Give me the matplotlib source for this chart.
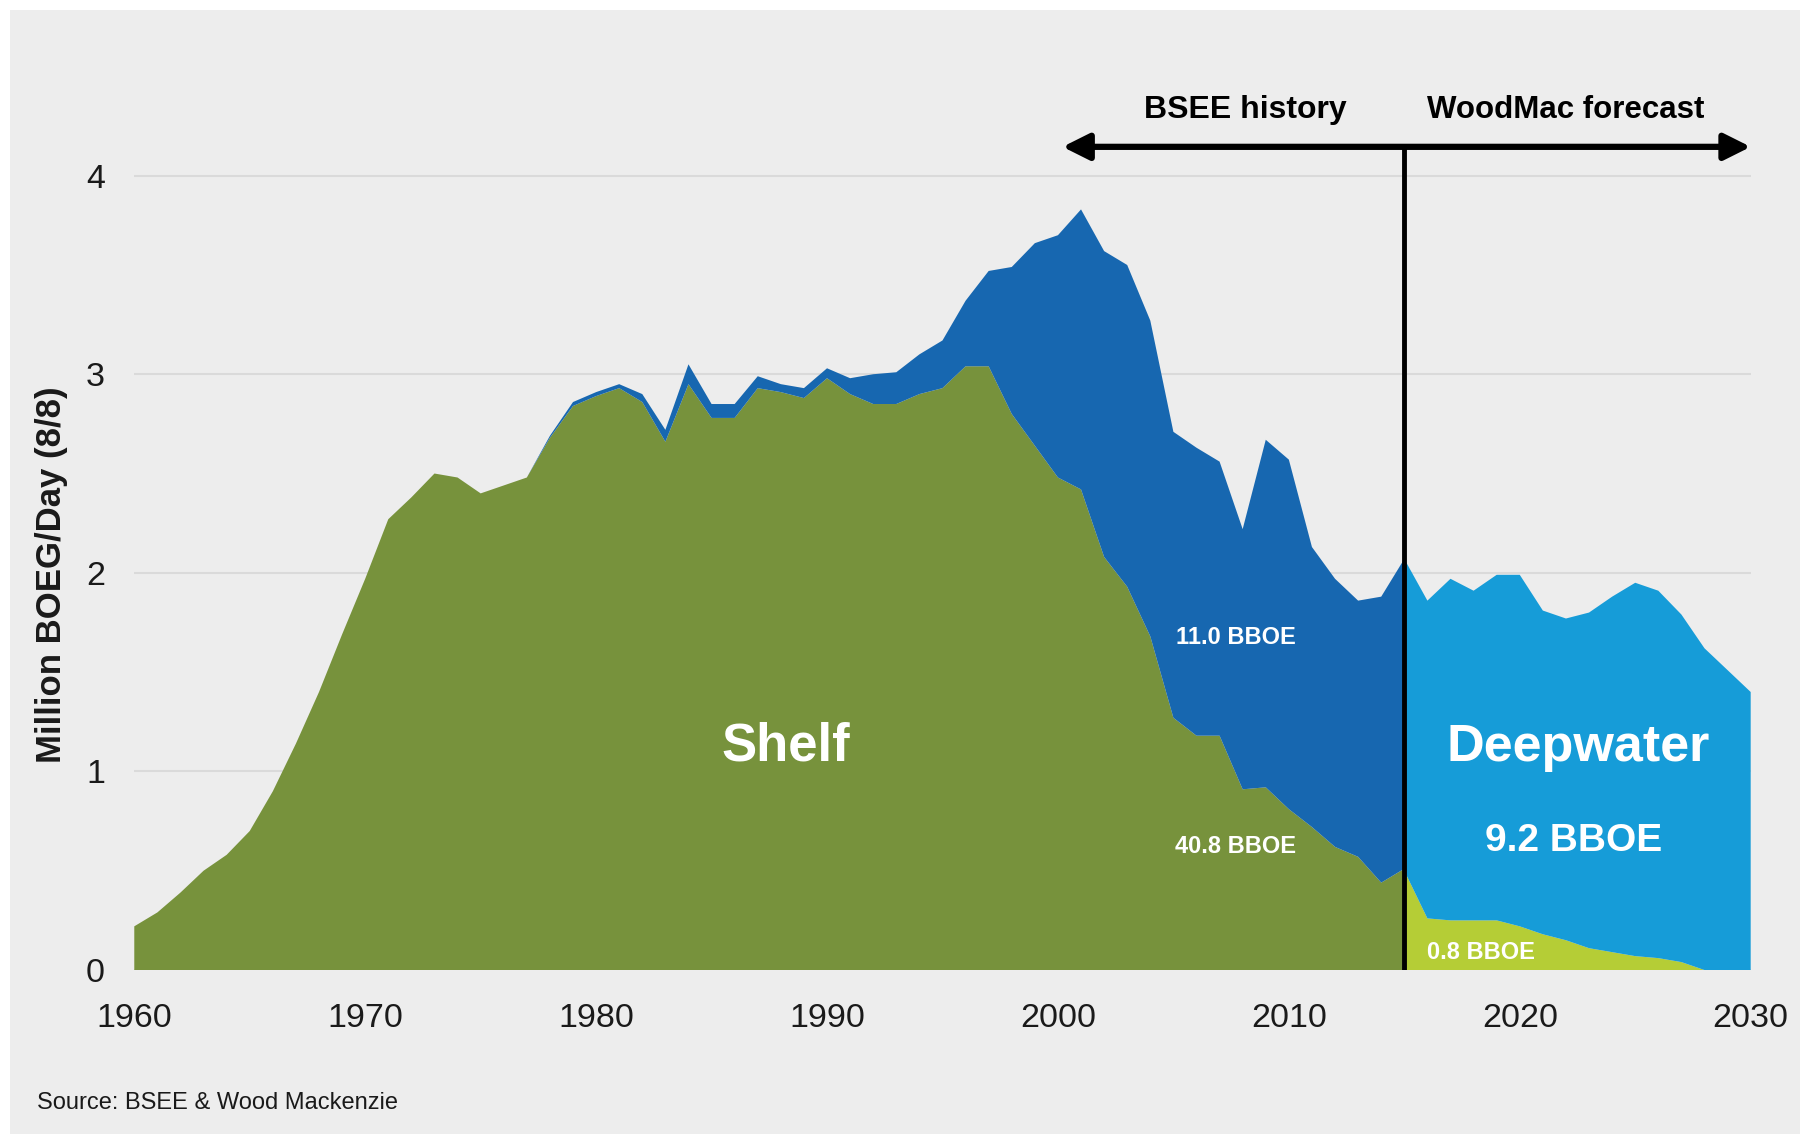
import matplotlib
matplotlib.use("Agg")
import matplotlib.pyplot as plt
from matplotlib.patches import Rectangle

plt.rcParams['font.family'] = ['Liberation Sans', 'DejaVu Sans']

# BSEE history, 1960-2015 (million BOEG/day)
years_hist = list(range(1960, 2016))
shelf_hist = [0.22, 0.29, 0.39, 0.50, 0.58, 0.70, 0.90, 1.14, 1.40, 1.69,
              1.97, 2.27, 2.38, 2.50, 2.48, 2.40, 2.44, 2.48, 2.68, 2.84,
              2.89, 2.93, 2.86, 2.66, 2.95, 2.78, 2.78, 2.93, 2.91, 2.88,
              2.98, 2.90, 2.85, 2.85, 2.90, 2.93, 3.04, 3.04, 2.80, 2.64,
              2.48, 2.42, 2.08, 1.93, 1.68, 1.27, 1.18, 1.18, 0.91, 0.92,
              0.81, 0.72, 0.62, 0.57, 0.44, 0.51]
deep_hist = [0.00, 0.00, 0.00, 0.00, 0.00, 0.00, 0.00, 0.00, 0.00, 0.00,
             0.00, 0.00, 0.00, 0.00, 0.00, 0.00, 0.00, 0.00, 0.01, 0.02,
             0.02, 0.02, 0.04, 0.06, 0.10, 0.07, 0.07, 0.06, 0.04, 0.05,
             0.05, 0.08, 0.15, 0.16, 0.20, 0.24, 0.33, 0.48, 0.74, 1.02,
             1.22, 1.41, 1.54, 1.62, 1.59, 1.44, 1.45, 1.38, 1.31, 1.75,
             1.76, 1.41, 1.35, 1.29, 1.44, 1.56]

# WoodMac forecast, 2015-2030
years_fc = list(range(2015, 2031))
shelf_fc = [0.50, 0.26, 0.25, 0.25, 0.25, 0.22, 0.18, 0.15, 0.11, 0.09,
            0.07, 0.06, 0.04, 0.00, 0.00, 0.00]
deep_fc = [1.57, 1.60, 1.72, 1.66, 1.74, 1.77, 1.63, 1.62, 1.69, 1.79,
           1.88, 1.85, 1.75, 1.62, 1.51, 1.40]

yticks = [0, 1, 2, 3, 4]
xticks = [1960, 1970, 1980, 1990, 2000, 2010, 2020, 2030]

shelf_color = '#77923C'
deep_color = '#1767B0'
deep_fc_color = '#169CD8'
shelf_fc_color = '#B5CD36'
bg = '#EDEDED'

fig = plt.figure(figsize=(18, 11.34), dpi=100, facecolor='white')
# grey panel, thin white strip on top and left
fig.patches.append(Rectangle((10 / 1800, 0), 1, 1 - 10 / 1134, transform=fig.transFigure,
                             facecolor=bg, edgecolor='none', zorder=-10))

ax = fig.add_axes([0.0746, 0.1446, 0.898, 0.8056])
ax.set_facecolor('none')

ax.stackplot(years_hist, shelf_hist, deep_hist, colors=[shelf_color, deep_color],
             linewidth=0, zorder=2)
ax.stackplot(years_fc, shelf_fc, deep_fc, colors=[shelf_fc_color, deep_fc_color],
             linewidth=0, zorder=2)

ax.set_xlim(1960, 2030)
ax.set_ylim(0, 4.6)
for y in yticks:
    ax.axhline(y, color='#DADADA', lw=1.5, zorder=1)

ax.set_yticks(yticks)
ax.set_xticks(xticks)
ax.tick_params(length=0, labelsize=24.5, labelcolor='#1a1a1a')
ax.tick_params(axis='y', pad=21)
ax.tick_params(axis='x', pad=24)
for s in ax.spines.values():
    s.set_visible(False)

# history / forecast divider and arrow
arrow_y = 4.145
ax.plot([2015, 2015], [0, arrow_y], color='black', lw=3.5, zorder=4, solid_capstyle='butt')
ax.annotate('', xy=(2000.2, arrow_y), xytext=(2030, arrow_y),
            arrowprops=dict(arrowstyle='<|-|>', lw=4.5, color='black',
                            mutation_scale=40, shrinkA=0, shrinkB=0),
            annotation_clip=False, zorder=5)
ax.text(2008.1, 4.33, 'BSEE history', ha='center', va='center', fontsize=23,
        fontweight='bold', color='black')
ax.text(2022.0, 4.33, 'WoodMac forecast', ha='center', va='center', fontsize=22.5,
        fontweight='bold', color='black')

# area labels
ax.text(1988.2, 1.125, 'Shelf', ha='center', va='center', fontsize=38,
        fontweight='bold', color='white', zorder=6)
ax.text(2022.55, 1.12, 'Deepwater', ha='center', va='center', fontsize=37.5,
        fontweight='bold', color='white', zorder=6)
ax.text(2022.35, 0.648, '9.2 BBOE', ha='center', va='center', fontsize=28,
        fontweight='bold', color='white', zorder=6)
ax.text(2007.7, 1.675, '11.0 BBOE', ha='center', va='center', fontsize=17,
        fontweight='bold', color='white', zorder=6)
ax.text(2007.7, 0.622, '40.8 BBOE', ha='center', va='center', fontsize=17,
        fontweight='bold', color='white', zorder=6)
ax.text(2018.3, 0.09, '0.8 BBOE', ha='center', va='center', fontsize=17,
        fontweight='bold', color='white', zorder=6)

fig.text(0.0287, 0.493, 'Million BOEG/Day (8/8)', rotation=90, ha='center', va='center',
         fontsize=25, fontweight='bold', color='#1a1a1a')
fig.text(0.0204, 0.027, 'Source: BSEE & Wood Mackenzie', ha='left', va='center',
         fontsize=17, color='#1a1a1a')

fig.savefig('out.png', dpi=100, facecolor=fig.get_facecolor())
